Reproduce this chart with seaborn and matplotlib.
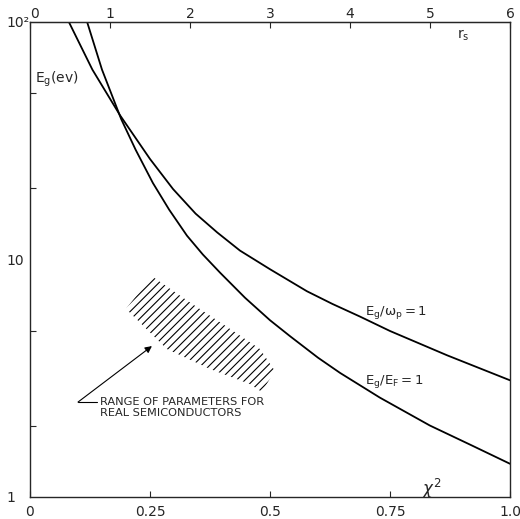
import matplotlib
matplotlib.use("Agg")
import matplotlib.pyplot as plt
import seaborn as sns
import pandas as pd

# curves: x = chi^2, y = E_g (eV)
chi2_wp = [0.081, 0.13, 0.1875, 0.25, 0.298, 0.345, 0.39, 0.4375, 0.5, 0.577,
           0.63, 0.6875, 0.75, 0.869, 1.0]
eg_wp = [100, 63, 40.5, 26.5, 19.8, 15.6, 13.0, 10.9, 9.1, 7.35,
         6.5, 5.75, 5.0, 3.95, 3.1]

chi2_ef = [0.119, 0.15, 0.19, 0.22, 0.256, 0.29, 0.327, 0.36, 0.396, 0.448,
           0.5, 0.542, 0.6, 0.646, 0.729, 0.833, 0.92, 1.0]
eg_ef = [100, 63, 39, 29, 21, 16.2, 12.6, 10.5, 8.8, 6.9,
         5.55, 4.75, 3.86, 3.33, 2.62, 2.0, 1.65, 1.38]

# hatched band (range of parameters for real semiconductors)
band_chi2_top = [0.254, 0.333, 0.417, 0.479, 0.510]
band_eg_top = [8.5, 6.6, 5.1, 4.2, 3.4]
band_chi2_bot = [0.2, 0.285, 0.375, 0.458, 0.483]
band_eg_bot = [6.2, 4.2, 3.46, 2.99, 2.77]

x_ticks = [0, 0.25, 0.5, 0.75, 1.0]
x_ticklabels = ["0", "0.25", "0.5", "0.75", "1.0"]
rs_ticks = [0, 1, 2, 3, 4, 5, 6]
y_ticks = [1, 10, 100]
y_ticklabels = ["1", "10", "10²"]
y_minor = [2, 5, 20, 50]

sns.set_style("ticks")
plt.rcParams["font.family"] = ["DejaVu Sans"]
plt.rcParams["hatch.linewidth"] = 0.8

df = pd.concat([
    pd.DataFrame({"chi2": chi2_wp, "Eg": eg_wp, "curve": "wp"}),
    pd.DataFrame({"chi2": chi2_ef, "Eg": eg_ef, "curve": "ef"}),
])

fig = plt.figure(figsize=(5.2, 5.19), dpi=100)
ax = fig.add_axes([30 / 520, 22 / 519, 480 / 520, 475 / 519])

sns.lineplot(data=df, x="chi2", y="Eg", hue="curve", palette=["black", "black"],
             sort=False, estimator=None, legend=False, linewidth=1.3, ax=ax)

ax.set_yscale("log")
ax.set_xlim(0, 1)
ax.set_ylim(1, 100)
ax.set_xlabel("")
ax.set_ylabel("")

ax.set_xticks(x_ticks)
ax.set_xticklabels(x_ticklabels)
ax.set_yticks(y_ticks)
ax.set_yticklabels(y_ticklabels, ha="left")
ax.set_yticks(y_minor, minor=True)
ax.yaxis.set_minor_formatter(matplotlib.ticker.NullFormatter())
ax.tick_params(axis="x", direction="in", length=4, width=0.8, labelsize=10, pad=6)
ax.tick_params(axis="y", which="both", direction="in", length=4, width=0.8, labelsize=10, pad=17)
ax.tick_params(axis="y", which="major", length=0)

for s in ax.spines.values():
    s.set_linewidth(1.0)
    s.set_visible(True)

# r_s scale along the top
top = ax.secondary_xaxis("top", functions=(lambda x: 6 * x, lambda r: r / 6))
top.set_xticks(rs_ticks)
top.tick_params(direction="in", length=4, width=0.8, labelsize=10, pad=1)
fig.canvas.draw()
top.xaxis.get_ticklabels()[0].set_ha("left")

# hatched region
ax.fill(band_chi2_top + band_chi2_bot[::-1], band_eg_top + band_eg_bot[::-1],
        facecolor="none", edgecolor="black", hatch="////", linewidth=0)

# arrow + label
ax.annotate("", xy=(0.254, 4.32), xytext=(0.1, 2.51),
            arrowprops=dict(arrowstyle="-|>", color="black", lw=0.8,
                            mutation_scale=10, shrinkA=0, shrinkB=0))
ax.plot([0.1, 0.14], [2.51, 2.51], color="black", lw=0.8)
ax.text(0.146, 2.64, "RANGE OF PARAMETERS FOR\nREAL SEMICONDUCTORS",
        fontsize=8.2, ha="left", va="top", linespacing=1.1)

ax.text(0.0104, 57.5, r"$\mathregular{E_g(ev)}$", fontsize=10, ha="left", va="center")
ax.text(0.902, 88, r"$\mathregular{r_s}$", fontsize=10, ha="center", va="center")
ax.text(0.8375, 1.08, r"$\chi^2$", fontsize=12, ha="center", va="center")
ax.text(0.698, 6.0, r"$\mathregular{E_g/\omega_p = 1}$", fontsize=9.5, ha="left", va="center")
ax.text(0.698, 3.05, r"$\mathregular{E_g/E_F = 1}$", fontsize=9.5, ha="left", va="center")

fig.savefig("out.png", dpi=100)
